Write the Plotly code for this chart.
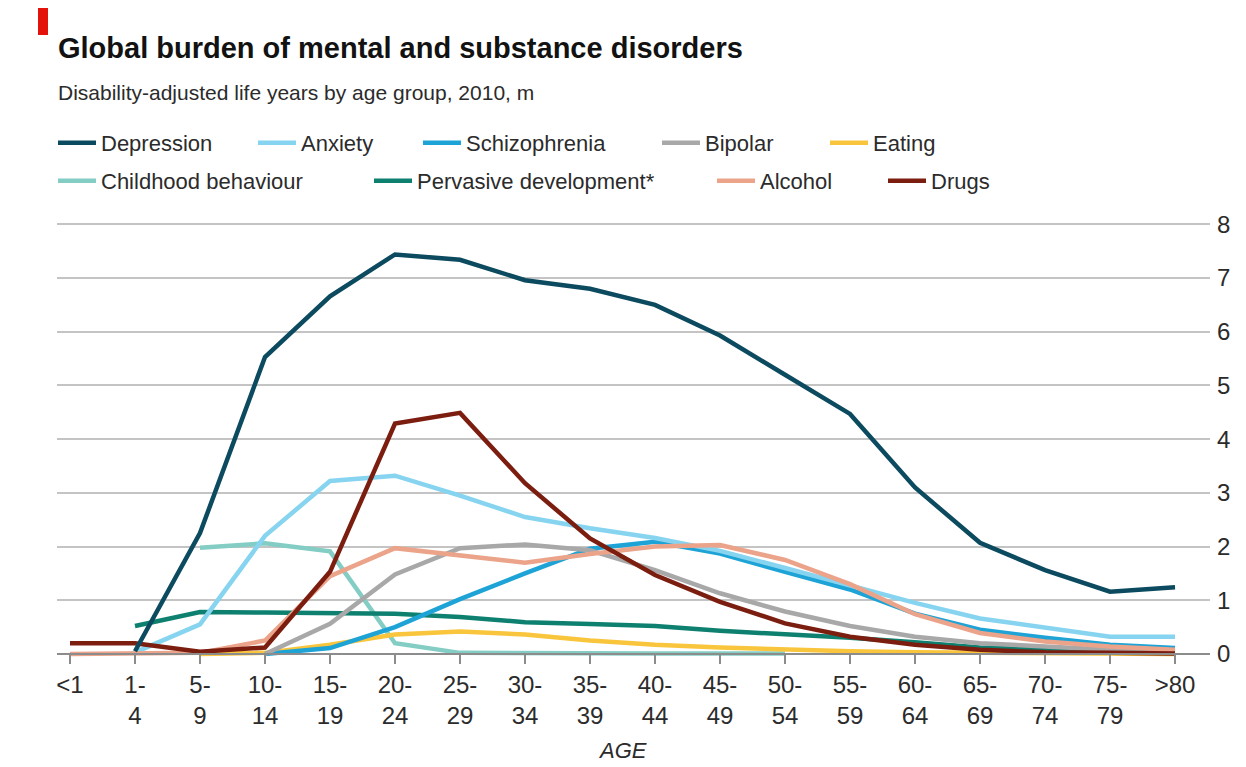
import plotly.graph_objects as go

# ---------------- data ----------------
age_groups = ["<1", "1-4", "5-9", "10-14", "15-19", "20-24", "25-29", "30-34", "35-39",
              "40-44", "45-49", "50-54", "55-59", "60-64", "65-69", "70-74", "75-79", ">80"]
tick_labels = ["&lt;1", "1-<br>4", "5-<br>9", "10-<br>14", "15-<br>19", "20-<br>24", "25-<br>29",
               "30-<br>34", "35-<br>39", "40-<br>44", "45-<br>49", "50-<br>54", "55-<br>59",
               "60-<br>64", "65-<br>69", "70-<br>74", "75-<br>79", "&gt;80"]
y_ticks = [0, 1, 2, 3, 4, 5, 6, 7, 8]

depression = [None, 0.05, 2.25, 5.53, 6.66, 7.44, 7.34, 6.96, 6.80, 6.50, 5.93, 5.20, 4.47, 3.10, 2.07, 1.56, 1.16, 1.24]
anxiety = [None, 0.03, 0.55, 2.20, 3.22, 3.32, 2.95, 2.55, 2.34, 2.16, 1.92, 1.60, 1.27, 0.95, 0.66, 0.50, 0.32, 0.32]
schizophrenia = [None, None, None, 0.0, 0.11, 0.50, 1.02, 1.50, 1.96, 2.09, 1.87, 1.53, 1.20, 0.75, 0.45, 0.30, 0.17, 0.11]
bipolar = [None, None, None, 0.0, 0.56, 1.48, 1.97, 2.04, 1.93, 1.56, 1.13, 0.79, 0.52, 0.32, 0.20, 0.14, 0.08, 0.05]
eating = [None, None, 0.0, 0.02, 0.17, 0.36, 0.42, 0.36, 0.25, 0.17, 0.12, 0.08, 0.05, 0.03, 0.02, 0.01, 0.01, 0.0]
childhood = [None, None, 1.98, 2.06, 1.91, 0.20, 0.02, 0.01, 0.01, 0.01, 0.01, 0.01, None, None, None, None, None, None]
pervasive = [None, 0.52, 0.78, 0.77, 0.76, 0.75, 0.69, 0.59, 0.56, 0.52, 0.43, 0.37, 0.30, 0.22, 0.12, 0.08, 0.05, 0.04]
alcohol = [0.0, 0.0, 0.02, 0.25, 1.45, 1.97, 1.84, 1.70, 1.86, 2.00, 2.03, 1.75, 1.30, 0.74, 0.39, 0.23, 0.14, 0.08]
drugs = [0.20, 0.20, 0.04, 0.12, 1.53, 4.29, 4.49, 3.18, 2.15, 1.47, 0.97, 0.57, 0.32, 0.17, 0.08, 0.03, 0.02, 0.01]

series_names = ["Depression", "Anxiety", "Schizophrenia", "Bipolar", "Eating",
                "Childhood behaviour", "Pervasive development*", "Alcohol", "Drugs"]
series_values = [depression, anxiety, schizophrenia, bipolar, eating,
                 childhood, pervasive, alcohol, drugs]
series_colors = ["#0b4a5f", "#86d4f0", "#1ea3d6", "#a8a8a8", "#f9c53c",
                 "#83cdc5", "#0d8070", "#eba38a", "#7b1e10"]

# ---------------- layout geometry ----------------
# the page body has an 8px margin, so the figure is offset by 8px in the window
OFF = 8
W, H = 1246 - OFF, 767 - OFF
L, R, T, B = 57 - OFF, 36, 219 - OFF, 105
PW, PH = W - L - R, H - T - B
X_RANGE = [-0.2, 17.538]
Y_RANGE = [-0.15, 8.1]


def px(xp):
    """window x pixel -> paper fraction"""
    return (xp - OFF - L) / PW


def py(yp):
    """window y pixel -> paper fraction"""
    return (H - B - (yp - OFF)) / PH


FONT = "Liberation Sans, Arial, sans-serif"
TXT = "#2b2b2b"

# legend layout: (symbol-start x px, row y px) in window pixels
legend_pos = [(57, 143), (257, 143), (422, 143), (661, 143), (829, 143),
              (57, 181), (373, 181), (716, 181), (887, 181)]

draw_order = [5, 6, 4, 2, 3, 1, 7, 8, 0]

fig = go.Figure()
for i in draw_order:
    lg = "legend" if i == 0 else f"legend{i + 1}"
    fig.add_trace(go.Scatter(
        x=age_groups, y=series_values[i], name=series_names[i],
        mode="lines", line=dict(color=series_colors[i], width=4.5),
        connectgaps=False, legend=lg, hoverinfo="skip",
    ))

layout_legends = {}
for i, (sx, sy) in enumerate(legend_pos):
    key = "legend" if i == 0 else f"legend{i + 1}"
    layout_legends[key] = dict(
        x=px(sx - 4), y=py(sy), xanchor="left", yanchor="middle",
        orientation="h", bgcolor="rgba(0,0,0,0)", borderwidth=0,
        font=dict(family=FONT, size=22, color=TXT), itemwidth=38,
        itemclick=False, itemdoubleclick=False,
    )

fig.update_layout(
    template="none",
    width=W, height=H,
    margin=dict(l=L, r=R, t=T, b=B, pad=0, autoexpand=False),
    paper_bgcolor="white", plot_bgcolor="white",
    showlegend=True,
    font=dict(family=FONT, color=TXT),
    xaxis=dict(
        type="category", categoryorder="array", categoryarray=age_groups,
        range=X_RANGE, tickmode="array", tickvals=age_groups, ticktext=tick_labels,
        anchor="free", position=(0 - Y_RANGE[0]) / (Y_RANGE[1] - Y_RANGE[0]),
        showline=True, linecolor="#8c8c8c", linewidth=2,
        ticks="outside", ticklen=9, tickwidth=1.5, tickcolor="#8c8c8c",
        tickfont=dict(family=FONT, size=24, color=TXT),
        showgrid=False, zeroline=False, fixedrange=True, automargin=False,
    ),
    yaxis=dict(
        range=Y_RANGE, side="right", tickmode="array", tickvals=y_ticks,
        showgrid=True, gridcolor="#c4c4c4", gridwidth=2,
        zeroline=False, showline=False, ticks="",
        tickfont=dict(family=FONT, size=24, color=TXT),
        ticklabelstandoff=6, fixedrange=True, automargin=False,
    ),
    **layout_legends,
)

# decoration: red tag at top-left
fig.add_shape(type="rect", xref="paper", yref="paper",
              x0=px(38), x1=px(48), y0=py(35), y1=py(5),
              fillcolor="#e3120b", line=dict(width=0))

fig.add_annotation(text="<b>Global burden of mental and substance disorders</b>",
                   xref="paper", yref="paper", x=px(56), y=py(48),
                   xanchor="left", yanchor="middle", showarrow=False,
                   font=dict(family=FONT, size=29, color="#121212"))
fig.add_annotation(text="Disability-adjusted life years by age group, 2010, m",
                   xref="paper", yref="paper", x=px(56), y=py(92),
                   xanchor="left", yanchor="middle", showarrow=False,
                   font=dict(family=FONT, size=21, color=TXT))
fig.add_annotation(text="<i>AGE</i>",
                   xref="paper", yref="paper", x=px(622), y=py(750),
                   xanchor="center", yanchor="middle", showarrow=False,
                   font=dict(family=FONT, size=22, color=TXT))

fig.write_html("out.html")
